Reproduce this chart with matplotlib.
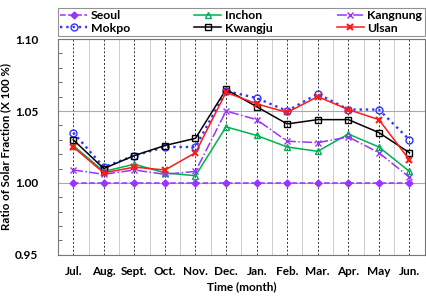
import matplotlib
matplotlib.use("Agg")
from matplotlib import pyplot as plt
from matplotlib.ticker import MultipleLocator

months = ["Jul.", "Aug.", "Sept.", "Oct.", "Nov.", "Dec.", "Jan.", "Feb.", "Mar.", "Apr.", "May", "Jun."]
seoul = [1.000] * 12
inchon = [1.026, 1.008, 1.013, 1.007, 1.005, 1.039, 1.033, 1.025, 1.022, 1.034, 1.025, 1.008]
kangnung = [1.009, 1.006, 1.009, 1.006, 1.008, 1.050, 1.044, 1.029, 1.028, 1.032, 1.021, 1.004]
mokpo = [1.035, 1.011, 1.019, 1.025, 1.025, 1.064, 1.059, 1.050, 1.062, 1.051, 1.051, 1.030]
kwangju = [1.030, 1.010, 1.019, 1.026, 1.031, 1.065, 1.053, 1.041, 1.044, 1.044, 1.035, 1.021]
ulsan = [1.025, 1.007, 1.011, 1.009, 1.021, 1.063, 1.055, 1.049, 1.060, 1.051, 1.044, 1.016]

plt.rcParams["font.family"] = ["Lato", "DejaVu Sans"]
plt.rcParams["font.weight"] = "bold"

fig = plt.figure(figsize=(4.26, 2.96), dpi=100)
ax = fig.add_axes([0.136, 0.139, 0.861, 0.729])
x = list(range(len(months)))

purple = "#9933ff"
h_seoul, = ax.plot(x, seoul, color=purple, ls="--", lw=1.1, marker="D", ms=3.5, label="Seoul")
h_inchon, = ax.plot(x, inchon, color="#00b050", ls="-", lw=1.1, marker="^", ms=5, mfc="none", label="Inchon")
h_kang, = ax.plot(x, kangnung, color=purple, ls="-.", lw=1.1, marker="x", ms=5, label="Kangnung")
h_mokpo, = ax.plot(x, mokpo, color="#3333ff", ls=":", lw=1.7, marker="o", ms=5, mfc="none", label="Mokpo")
h_kwang, = ax.plot(x, kwangju, color="black", ls="-", lw=1.1, marker="s", ms=5, mfc="none", label="Kwangju")
h_ulsan, = ax.plot(x, ulsan, color="#ff1a1a", ls="-", lw=1.1, marker="x", ms=5, mew=1.5, label="Ulsan")

ax.set_xlim(-0.5, 11.5)
ax.set_ylim(0.95, 1.10)
ax.set_xticks(x)
ax.set_xticklabels(months, fontsize=8.5, fontweight="bold")
ax.set_xticks([i + 0.5 for i in range(-1, 12)], minor=True)
ax.yaxis.set_major_locator(MultipleLocator(0.05))
ax.yaxis.set_minor_locator(MultipleLocator(0.01))
ax.set_yticks([0.95, 1.00, 1.05, 1.10])
ax.set_yticklabels(["0.95", "1.00", "1.05", "1.10"], fontsize=8.5, fontweight="bold")
ax.tick_params(axis="x", which="both", length=0, pad=8)
ax.tick_params(axis="y", which="major", length=0, pad=14)
ax.tick_params(axis="y", which="minor", direction="in", length=3, color="#555555")

ax.grid(axis="x", which="major", color="#333333", ls=(0, (2, 2)), lw=0.7)
ax.grid(axis="x", which="minor", color="#cccccc", ls="-", lw=0.7)
ax.grid(axis="y", which="major", color="#aaaaaa", ls="-", lw=0.8)
ax.set_axisbelow(True)
for s in ax.spines.values():
    s.set_color("#777777")

ax.set_xlabel("Time (month)", fontsize=8.5, fontweight="bold", labelpad=3)
ax.set_ylabel("Ratio of Solar Fraction (X 100 %)", fontsize=8.3, fontweight="bold", labelpad=3)

handles = [h_seoul, h_mokpo, h_inchon, h_kwang, h_kang, h_ulsan]
leg = ax.legend(handles=handles, labels=[h.get_label() for h in handles], ncol=3,
                loc="lower left", bbox_to_anchor=(0, 1.014, 1, 0.145), mode="expand",
                fancybox=False, edgecolor="#777777", fontsize=8.8, handlelength=2.2,
                borderpad=0.2, labelspacing=0.1, handletextpad=0.3, borderaxespad=0)
leg.get_frame().set_linewidth(0.8)

plt.savefig("out.png", dpi=100)
